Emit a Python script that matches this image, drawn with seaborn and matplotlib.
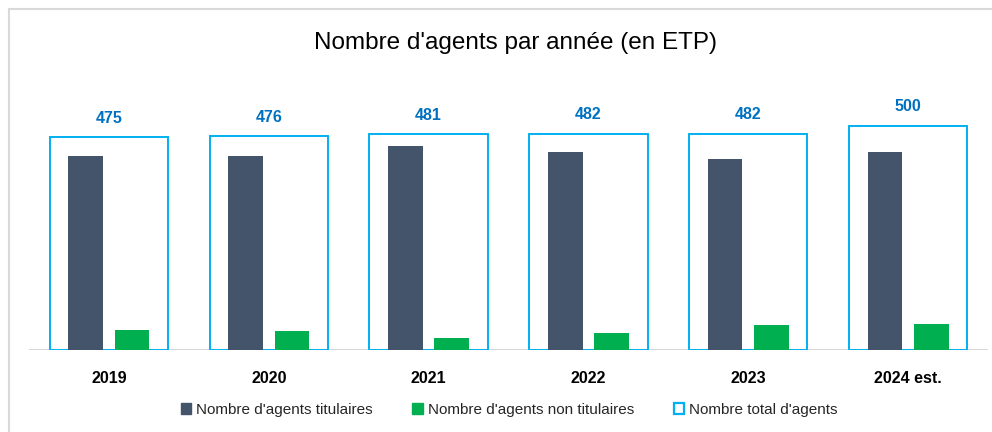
#Nombre d'agents par annee (en ETP)
#Bar chart: titulaires / non titulaires inside an outlined total bar.

#Import the required libraries
import matplotlib
matplotlib.use("Agg")
import matplotlib.pyplot as plt
import matplotlib.patches as mpatches
import pandas as pd
import seaborn as sns


# Data
years = ["2019", "2020", "2021", "2022", "2023", "2024 est."]
total = [475, 476, 481, 482, 482, 500]
titulaires = [432, 432, 455, 441, 426, 441]
non_titulaires = [45, 42, 27, 38, 55, 58]

lab_tit = "Nombre d'agents titulaires"
lab_non = "Nombre d'agents non titulaires"
lab_tot = "Nombre total d'agents"

# Colours
c_tit = "#44546A"
c_non = "#00B050"
c_tot = "#00B0F0"
c_lab = "#0070C0"

sns.set_style("white")
plt.rcParams['font.family'] = ['Liberation Sans', 'DejaVu Sans']

# Long dataframe for the two inner series
df = pd.DataFrame({
    "year": years * 2,
    "value": titulaires + non_titulaires,
    "serie": [lab_tit] * len(years) + [lab_non] * len(years),
})

fig = plt.figure(figsize=(9.92, 4.32), dpi=100)
ax = fig.add_axes([29 / 992, 82 / 432, 959 / 992, 269.4 / 432])

# Total as outlined wide bars
sns.barplot(x=years, y=total, width=0.74, fill=False, color=c_tot,
            linewidth=1.4, ax=ax, errorbar=None)
tot_container = ax.containers[0]
for p in tot_container:
    p.set_edgecolor(c_tot)

# Inner bars
sns.barplot(data=df, x="year", y="value", hue="serie", order=years,
            palette=[c_tit, c_non], width=0.58, gap=0.25, ax=ax,
            errorbar=None, legend=False, saturation=1, linewidth=0)

ax.bar_label(tot_container, labels=[str(v) for v in total], padding=8,
             color=c_lab, fontsize=11.5, fontweight='bold')

ax.set_ylim(0, 600)
ax.set_xlim(-0.5, 5.5)
ax.axhline(0, color="#D9D9D9", lw=1.5, zorder=0)
sns.despine(ax=ax, left=True, bottom=True)
ax.set_yticks([])
ax.set_xlabel("")
ax.set_ylabel("")
ax.tick_params(axis='x', length=0, pad=15)
plt.setp(ax.get_xticklabels(), fontweight='bold', fontsize=11.5, color="black")

fig.text(515 / 992, 1 - 43 / 432, "Nombre d'agents par année (en ETP)",
         ha='center', va='center', fontsize=17.5, color="black")

# Legend
handles = [
    mpatches.Patch(facecolor=c_tit, edgecolor=c_tit, label=lab_tit),
    mpatches.Patch(facecolor=c_non, edgecolor=c_non, label=lab_non),
    mpatches.Patch(facecolor="white", edgecolor=c_tot, linewidth=1.6, label=lab_tot),
]
fig.legend(handles=handles, loc='center', bbox_to_anchor=(509 / 992, 1 - 410 / 432),
           ncol=3, frameon=False, fontsize=11, handlelength=0.7, handleheight=0.7,
           handletextpad=0.3, columnspacing=2.6)

# Light border around the chart area
fig.add_artist(mpatches.Rectangle((9 / 992, -0.05), 1.1, 1 - 9 / 432 + 0.05,
                                  transform=fig.transFigure, fill=False,
                                  edgecolor="#D9D9D9", lw=1.5))

fig.savefig("out.png", dpi=100)
